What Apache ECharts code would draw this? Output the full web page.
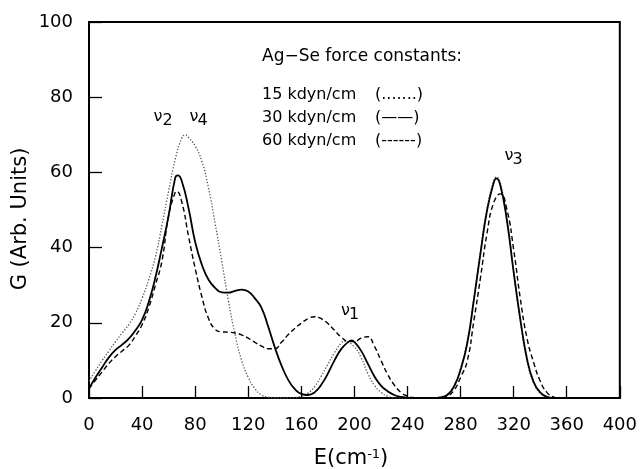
<!DOCTYPE html>
<html><head><meta charset="utf-8">
<script src="https://cdn.jsdelivr.net/npm/echarts@6/dist/echarts.min.js"></script>
<style>html,body{margin:0;padding:0;background:#fff}#c{width:640px;height:469px}</style>
</head><body><div id="c"></div>
<script>
// 15 kdyn/cm (dotted): energy (cm^-1) and G values
const e15 = [0,5,10,15,20,25,30,35,40,45,
  50,55,60,65,70,72.5,75,80,85,90,95,
  100,105,110,115,120,125,130,135,140,145,
  150,155,160,165,170,175,180,185,190,193,195,
  200,205,210,215,220,225,230,235,240,245,
  250,255,260,265,270,275,280,285,290,295,
  300,305,307,310,315,320,325,330,335,340,345,
  350,355,360,365,370,375,380,385,390,395,400];
const g15 = [4.5,7.3,10,12.5,15,17.3,19.5,22.5,26.5,31.5,
  37.5,46,55,63.5,69.2,70,69.3,67,63,56,46.5,
  36.5,26,17,10,5.5,2.5,0.8,0.2,0,0,
  0,0.1,0.5,1.3,3,5.8,9,12,14.6,15.1,14.9,
  13.6,10.8,6.6,3.4,1.5,0.5,0.1,0,0,0,
  0,0,0,0.3,1,3.2,8,15,26.5,39,
  50.5,57.8,58.8,57,47.5,33.5,20.5,10,4,1.3,0.3,
  0,0,0,0,0,0,0,0,0,0,0];
// 30 kdyn/cm (solid)
const e30 = [0,5,10,15,20,25,30,35,40,45,
  50,55,60,65,67,70,75,80,85,90,95,
  100,105,110,115,120,125,130,135,140,145,
  150,155,160,165,170,175,180,185,190,195,198,
  200,205,210,215,220,225,230,235,240,245,
  250,255,260,265,270,275,280,285,290,295,
  300,305,307,310,315,320,325,330,335,340,345,
  350,355,360,365,370,375,380,385,390,395,400];
const g30 = [2.5,5.5,8.2,10.8,12.8,14.2,15.8,18,20.8,25.5,
  32,40,48.5,58.6,59.2,57.6,50.5,41.5,35.5,31.5,29.3,
  28.1,28,28.5,28.8,28.3,26.5,24,19,13.5,8.7,
  4.9,2.4,1.1,0.8,1.5,3.5,6.5,10,13,14.8,15.3,
  14.9,12.6,9.2,5.8,3.3,1.8,0.8,0.3,0.1,0,
  0,0,0,0.2,0.8,3,7.5,14.5,26,38.5,
  50,57.3,58.4,56.5,47,33.5,21,10.5,4.3,1.5,0.3,
  0,0,0,0,0,0,0,0,0,0,0];
// 60 kdyn/cm (dashed)
const e60 = [0,5,10,15,20,25,30,35,40,45,
  50,55,60,65,66,70,75,80,85,90,95,
  100,105,110,115,120,125,130,135,140,145,
  150,155,160,165,170,175,180,185,190,195,
  200,205,210,215,220,225,230,235,240,245,
  250,255,260,265,270,275,280,285,290,295,
  300,305,310,315,320,325,330,335,340,345,
  350,355,360,365,370,375,380,385,390,395,400];
const g60 = [2.5,4.8,7,9.2,11,12.5,14,16.5,19.5,24,
  30,36.5,48.5,54.8,55,52,43,34.5,27,21.2,18.3,
  17.6,17.5,17.3,16.8,15.9,14.8,13.8,13.1,13.1,14.8,
  16.8,18.5,19.9,21.1,21.6,21.1,19.8,18,16.2,15.1,
  15,15.9,16.3,13.8,10,6.3,3.5,1.5,0.5,0.1,
  0,0,0,0.1,0.5,2,5.5,9.8,20.5,32,
  44,52,54.3,50,39.5,26.5,16,9.5,4.5,1.5,
  0.3,0,0,0,0,0,0,0,0,0,0];

const seriesLabels = ['15 kdyn/cm','30 kdyn/cm','60 kdyn/cm'];
const styleMarks = ['(.......)','(\u2014\u2014)','(------)'];
const legendTitle = 'Ag\u2212Se force constants:';
const xTitle = 'E(cm{s|-1})';
const yTitle = 'G (Arb. Units)';

const FONT = 'DejaVu Sans';
const pair = (xs, ys) => xs.map((e, i) => [e, ys[i]]);

const chart = echarts.init(document.getElementById('c'), null, {renderer: 'canvas'});

function txt(x, y, text, size) {
  return {type: 'text', x: x, y: y,
    style: {text: text, fontFamily: FONT, fontSize: size, fill: '#000', align: 'left', verticalAlign: 'middle'}};
}

const graphics = [
  txt(262, 57, legendTitle, 17),
  txt(262, 95, seriesLabels[0], 16), txt(375, 95, styleMarks[0], 16),
  txt(262, 117.5, seriesLabels[1], 16), txt(375, 117.5, styleMarks[1], 16),
  txt(262, 141, seriesLabels[2], 16), txt(375, 141, styleMarks[2], 16),
  txt(153.5, 116.5, '\u03bd', 16), txt(162.5, 121, '2', 16),
  txt(189.5, 116.5, '\u03bd', 16), txt(197.5, 121, '4', 16),
  txt(341, 310.5, '\u03bd', 16), txt(349, 314.5, '1', 16),
  txt(504.5, 155.5, '\u03bd', 16), txt(512.5, 160, '3', 16),
  {type: 'text', x: 21, y: 219, rotation: Math.PI / 2,
    style: {text: yTitle, fontFamily: FONT, fontSize: 21, fill: '#000', align: 'center', verticalAlign: 'middle'}},
  {type: 'text', x: 351, y: 459,
    style: {text: xTitle, fontFamily: FONT, fontSize: 21, fill: '#000', align: 'center', verticalAlign: 'middle',
      rich: {s: {fontFamily: FONT, fontSize: 13, fill: '#000', verticalAlign: 'top', lineHeight: 13}}}}
];

const axisCommon = {
  type: 'value',
  axisLine: {show: true, lineStyle: {color: '#000', width: 2}},
  axisTick: {show: true, inside: true, length: 12, lineStyle: {color: '#000', width: 1.3}},
  axisLabel: {fontFamily: FONT, fontSize: 18, color: '#000', margin: 18},
  splitLine: {show: false}
};

chart.setOption({
  animation: false,
  backgroundColor: '#fff',
  grid: {left: 89, right: 18, top: 22, bottom: 71, show: true, borderColor: '#000', borderWidth: 2, backgroundColor: 'transparent'},
  xAxis: Object.assign({}, axisCommon, {min: 0, max: 400, interval: 40}),
  yAxis: Object.assign({}, axisCommon, {min: 0, max: 100, interval: 20,
    axisTick: {show: true, inside: true, length: 13, lineStyle: {color: '#000', width: 1.3}},
    axisLabel: {fontFamily: FONT, fontSize: 18, color: '#000', margin: 16}}),
  series: [
    {name: seriesLabels[0], type: 'line', data: pair(e15, g15), showSymbol: false, smooth: 0.5, clip: true,
      lineStyle: {color: '#555', width: 1.3, type: [1.3, 1.8]}, z: 3},
    {name: seriesLabels[1], type: 'line', data: pair(e30, g30), showSymbol: false, smooth: 0.5, clip: true,
      lineStyle: {color: '#000', width: 1.8, type: 'solid'}, z: 4},
    {name: seriesLabels[2], type: 'line', data: pair(e60, g60), showSymbol: false, smooth: 0.5, clip: true,
      lineStyle: {color: '#000', width: 1.4, type: [5, 3]}, z: 5}
  ],
  graphic: graphics
});
</script></body></html>
